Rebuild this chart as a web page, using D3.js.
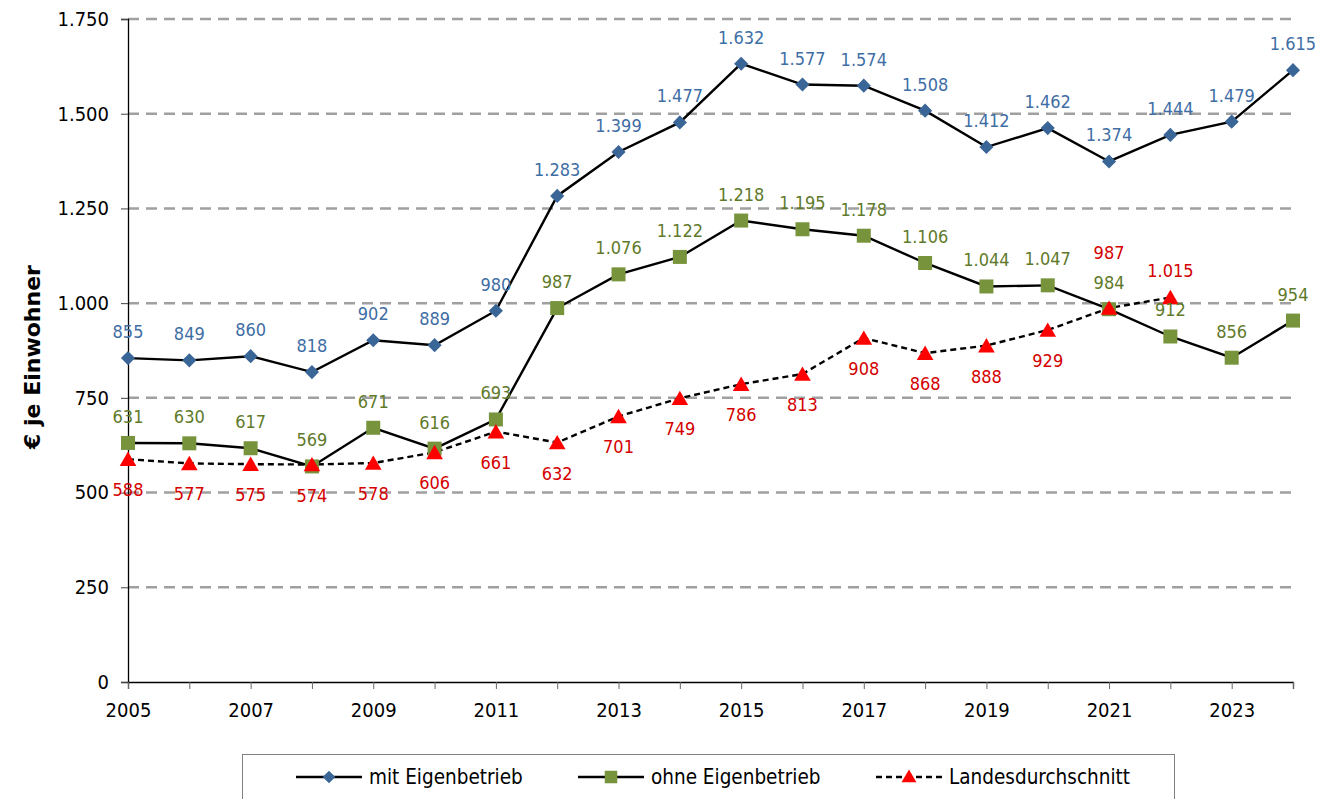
<!DOCTYPE html>
<html>
<head>
<meta charset="utf-8">
<script src="https://cdn.jsdelivr.net/npm/d3@7"></script>
<style>
  body { margin: 0; background: #fff; }
  text { font-family: "DejaVu Sans Condensed", "DejaVu Sans", sans-serif; }
</style>
</head>
<body>
<div id="chart"></div>
<script>
var years = d3.range(2005, 2025),
    mitEigen = [855, 849, 860, 818, 902, 889, 980, 1283, 1399, 1477, 1632, 1577, 1574, 1508, 1412, 1462, 1374, 1444, 1479, 1615],
    ohneEigen = [631, 630, 617, 569, 671, 616, 693, 987, 1076, 1122, 1218, 1195, 1178, 1106, 1044, 1047, 984, 912, 856, 954],
    landes = [588, 577, 575, 574, 578, 606, 661, 632, 701, 749, 786, 813, 908, 868, 888, 929, 987, 1015],
    landesAbove = [2021, 2022],
    yTicks = [0, 250, 500, 750, 1000, 1250, 1500, 1750],
    seriesNames = ["mit Eigenbetrieb", "ohne Eigenbetrieb", "Landesdurchschnitt"];

var width = 1330, height = 799,
    margin = { top: 19, left: 128, right: 37, bottom: 117 },
    fontFam = "'DejaVu Sans Condensed', sans-serif";

var fmt = d3.formatLocale({ decimal: ",", thousands: ".", grouping: [3], currency: ["", "€"] }).format(",d");

var svg = d3.select("#chart").append("svg")
    .attr("width", width)
    .attr("height", height);

var x = d3.scaleLinear()
    .domain([2005, 2024])
    .range([margin.left, width - margin.right]);

var y = d3.scaleLinear()
    .domain([0, 1750])
    .range([height - margin.bottom, margin.top]);

// gridlines
svg.append("g")
    .selectAll("line")
    .data(yTicks.filter(function (d) { return d > 0; }))
    .join("line")
    .attr("x1", x(2005)).attr("x2", x(2024))
    .attr("y1", d => y(d)).attr("y2", d => y(d))
    .attr("stroke", "#a0a0a0")
    .attr("stroke-width", 2.5)
    .attr("stroke-dasharray", "11,7");

// y axis
var yAxis = svg.append("g")
    .attr("transform", "translate(" + x(2005) + ",0)")
    .call(d3.axisLeft(y).tickValues(yTicks).tickFormat(fmt).tickSize(7).tickPadding(12));
yAxis.select(".domain").attr("stroke", "#000").attr("stroke-width", 1.3);
yAxis.selectAll(".tick line").attr("stroke", "#444");
yAxis.selectAll("text").attr("font-size", 20).attr("fill", "#000")
    .style("font-family", fontFam);

// x axis
var xAxis = svg.append("g")
    .attr("transform", "translate(0," + y(0) + ")")
    .call(d3.axisBottom(x).tickValues(years).tickSize(7).tickPadding(14)
        .tickFormat(function (d) { return (d - 2005) % 2 === 0 ? d : ""; }));
xAxis.select(".domain").attr("stroke", "#000").attr("stroke-width", 1.3);
xAxis.selectAll(".tick line").attr("stroke", "#666");
xAxis.selectAll("text").attr("font-size", 20).attr("fill", "#000")
    .style("font-family", fontFam);

// y axis title
svg.append("text")
    .attr("transform", "translate(40,357) rotate(-90)")
    .attr("text-anchor", "middle")
    .attr("font-size", 22)
    .attr("font-weight", "bold")
    .style("font-family", "'DejaVu Sans', sans-serif")
    .text("€ je Einwohner");

var line = d3.line()
    .x(function (d) { return x(d.year); })
    .y(function (d) { return y(d.value); });

function toPoints(arr) {
    return arr.map(function (v, i) { return { year: years[i], value: v }; });
}

var series = [
    { name: seriesNames[0], data: toPoints(mitEigen), dash: null, symbol: d3.symbolSquare, rot: 45, size: 100, fill: "#3a6597", label: "#3f6ea5", above: true },
    { name: seriesNames[1], data: toPoints(ohneEigen), dash: null, symbol: d3.symbolSquare, rot: 0, size: 196, fill: "#77933c", label: "#5f7a2a", above: true },
    { name: seriesNames[2], data: toPoints(landes), dash: "6,4", symbol: d3.symbolTriangle, rot: 0, size: 120, fill: "#ff0000", label: "#d40000", above: false }
];

// lines
[series[2], series[1], series[0]].forEach(function (s) {
    svg.append("path")
        .datum(s.data)
        .attr("fill", "none")
        .attr("stroke", "#000")
        .attr("stroke-width", 2.4)
        .attr("stroke-dasharray", s.dash)
        .attr("d", line);
});

// markers
[series[1], series[0], series[2]].forEach(function (s) {
    var shape = d3.symbol().type(s.symbol).size(s.size);
    svg.append("g").selectAll("path")
        .data(s.data)
        .join("path")
        .attr("d", shape)
        .attr("transform", function (d) {
            return "translate(" + x(d.year) + "," + (y(d.value) + (s.symbol === d3.symbolTriangle ? 2 : 0)) + ") rotate(" + s.rot + ")";
        })
        .attr("fill", s.fill);
});

// data labels
series.forEach(function (s) {
    svg.append("g").selectAll("text")
        .data(s.data)
        .join("text")
        .attr("x", function (d) { return x(d.year); })
        .attr("y", function (d) {
            var up = s.above || landesAbove.indexOf(d.year) >= 0;
            if (!s.above && d.year === 2021) return y(d.value) - 49;
            return up ? y(d.value) - 20 : y(d.value) + 37;
        })
        .attr("text-anchor", "middle")
        .attr("font-size", 18)
        .attr("fill", s.label)
        .text(function (d) { return fmt(d.value); });
});

// legend
var lg = svg.append("g");
lg.append("rect")
    .attr("x", 242.5).attr("y", 754.5)
    .attr("width", 932).attr("height", 60)
    .attr("fill", "#fff")
    .attr("stroke", "#808080");

var legendX = [296, 578, 876];
series.forEach(function (s, i) {
    var g = lg.append("g").attr("transform", "translate(" + legendX[i] + ",777)");
    g.append("line")
        .attr("x1", 0).attr("x2", 66)
        .attr("stroke", "#000")
        .attr("stroke-width", 2.4)
        .attr("stroke-dasharray", s.dash);
    g.append("path")
        .attr("d", d3.symbol().type(s.symbol).size(s.size * 0.8)())
        .attr("transform", "translate(33," + (s.symbol === d3.symbolTriangle ? 1 : 0) + ") rotate(" + s.rot + ")")
        .attr("fill", s.fill);
    g.append("text")
        .attr("x", 73).attr("y", 7)
        .attr("font-size", 20.5)
        .attr("fill", "#000")
        .text(s.name);
});
</script>
</body>
</html>
